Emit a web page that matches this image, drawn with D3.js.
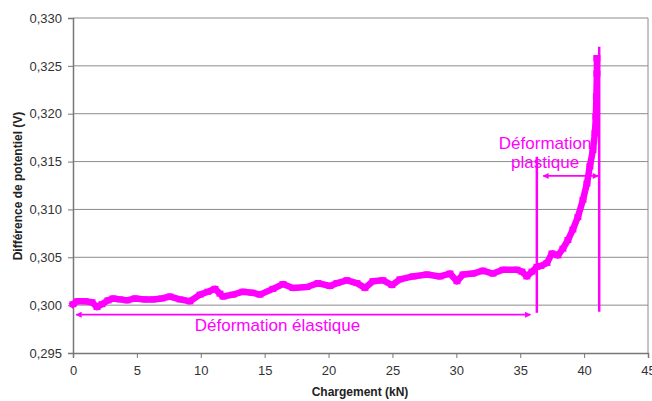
<!DOCTYPE html>
<html><head><meta charset="utf-8">
<script src="https://cdn.jsdelivr.net/npm/d3@7"></script>
<style>html,body{margin:0;padding:0;background:#fff;}svg{display:block;font-family:Arial,"Liberation Sans",sans-serif;}</style>
</head><body><svg id="c" width="652" height="401"></svg>
<script>
const load = [0.00,0.31,0.94,1.49,1.88,2.27,2.74,3.13,3.68,4.23,4.85,5.63,6.26,6.96,7.59,8.37,9.15,9.94,10.56,11.11,11.50,11.74,12.52,13.30,14.01,14.63,15.65,16.43,17.21,18.31,19.17,20.11,20.66,21.44,22.22,22.85,23.47,24.26,24.96,25.59,26.60,27.70,28.72,29.50,30.05,30.52,31.30,32.08,32.86,33.65,34.74,35.13,35.52,35.92,36.31,36.62,37.09,37.48,37.95,38.34,38.73,39.12,39.51,39.91,40.22,40.45,40.69,40.85,40.92,40.96,41.00,41.00];
const voltage = [0.3001,0.3004,0.3004,0.3003,0.2998,0.3001,0.3005,0.3007,0.3006,0.3005,0.3007,0.3006,0.3006,0.3007,0.3009,0.3006,0.3004,0.3011,0.3014,0.3017,0.3012,0.3009,0.3011,0.3014,0.3013,0.3011,0.3017,0.3022,0.3018,0.3019,0.3023,0.3020,0.3023,0.3026,0.3023,0.3018,0.3025,0.3026,0.3021,0.3027,0.3030,0.3032,0.3030,0.3033,0.3025,0.3032,0.3033,0.3036,0.3033,0.3037,0.3037,0.3035,0.3030,0.3035,0.3040,0.3041,0.3044,0.3054,0.3052,0.3059,0.3068,0.3079,0.3092,0.3110,0.3127,0.3145,0.3162,0.3180,0.3197,0.3218,0.3242,0.3258];
const xTicks = [0,5,10,15,20,25,30,35,40,45];
const yTicks = [0.295,0.300,0.305,0.310,0.315,0.320,0.325,0.330];
const markerLines = [{x:36.3, y0:0.2992, y1:0.3155},{x:41.18, y0:0.2993, y1:0.3270}];
const arrows = [{x0:0.25, x1:35.8, y:0.2990},{x0:36.8, x1:41.1, y:0.3135}];
const labels = [{text:["Déformation élastique"], x:16.0, y:0.2973},{text:["Déformation","plastique"], x:36.95, y:0.31635}];

const svg = d3.select("#c");
const M = {l:73, r:648, t:18, b:353};
const x = d3.scaleLinear().domain([0,45]).range([M.l,M.r]);
const y = d3.scaleLinear().domain([0.295,0.330]).range([M.b,M.t]);
const pink = "#ff00ff";
const fmt = v => d3.format(".3f")(v).replace(".", ",");

svg.append("g").selectAll("line").data(yTicks.slice(1)).join("line")
  .attr("x1",M.l).attr("x2",M.r).attr("y1",d=>y(d)).attr("y2",d=>y(d))
  .attr("stroke","#8c8c8c").attr("stroke-width",1);
svg.append("line").attr("x1",M.r).attr("x2",M.r).attr("y1",M.t).attr("y2",M.b).attr("stroke","#8c8c8c");

const gy = svg.append("g").attr("transform",`translate(${M.l},0)`)
  .call(d3.axisLeft(y).tickValues(yTicks).tickFormat(fmt).tickSize(5).tickPadding(6));
const gx = svg.append("g").attr("transform",`translate(0,${M.b})`)
  .call(d3.axisBottom(x).tickValues(xTicks).tickFormat(d=>d).tickSize(5).tickPadding(8));
[gx,gy].forEach(g=>{
  g.select(".domain").attr("stroke","#777").attr("stroke-width",1.5);
  g.selectAll(".tick line").attr("stroke","#777");
  g.selectAll(".tick text").attr("fill","#333").style("font-size","13px").style("font-family","Arial, 'Liberation Sans', sans-serif");
});

svg.append("text").attr("x",360).attr("y",396).attr("text-anchor","middle")
  .style("font-size","12px").style("font-weight","bold").attr("fill","#222").text("Chargement (kN)");
svg.append("text").attr("transform","translate(22,186) rotate(-90)").attr("text-anchor","middle")
  .style("font-size","12px").style("font-weight","bold").attr("fill","#222").text("Différence de potentiel (V)");

const pts = load.map((d,i)=>[d, voltage[i]]);
svg.append("path").datum(pts)
  .attr("d", d3.line().x(d=>x(d[0])).y(d=>y(d[1])).curve(d3.curveLinear))
  .attr("fill","none").attr("stroke",pink).attr("stroke-width",6.5).attr("stroke-linejoin","round").attr("stroke-linecap","square");
svg.append("g").selectAll("rect").data(pts).join("rect")
  .attr("x",d=>x(d[0])-3.5).attr("y",d=>y(d[1])-3).attr("width",7).attr("height",6).attr("fill",pink);

svg.append("g").selectAll("line").data(markerLines).join("line")
  .attr("x1",d=>x(d.x)).attr("x2",d=>x(d.x)).attr("y1",d=>y(d.y0)).attr("y2",d=>y(d.y1))
  .attr("stroke",pink).attr("stroke-width",2.5);

const defs = svg.append("defs");
defs.append("marker").attr("id","ah").attr("viewBox","0 0 10 10").attr("refX",9).attr("refY",5)
  .attr("markerWidth",7).attr("markerHeight",6).attr("markerUnits","userSpaceOnUse").attr("orient","auto-start-reverse")
  .append("path").attr("d","M0,0 L10,5 L0,10 Z").attr("fill",pink);
svg.append("g").selectAll("line").data(arrows).join("line")
  .attr("x1",d=>x(d.x0)).attr("x2",d=>x(d.x1)).attr("y1",d=>y(d.y)).attr("y2",d=>y(d.y))
  .attr("stroke",pink).attr("stroke-width",1.8)
  .attr("marker-start","url(#ah)").attr("marker-end","url(#ah)");

labels.forEach(l=>{
  const t = svg.append("text").attr("x",x(l.x)).attr("y",y(l.y)).attr("text-anchor","middle")
    .attr("fill",pink).style("font-size","17px");
  l.text.forEach((s,i)=>t.append("tspan").attr("x",x(l.x)).attr("dy",i?19.5:0).text(s));
});
</script></body></html>
